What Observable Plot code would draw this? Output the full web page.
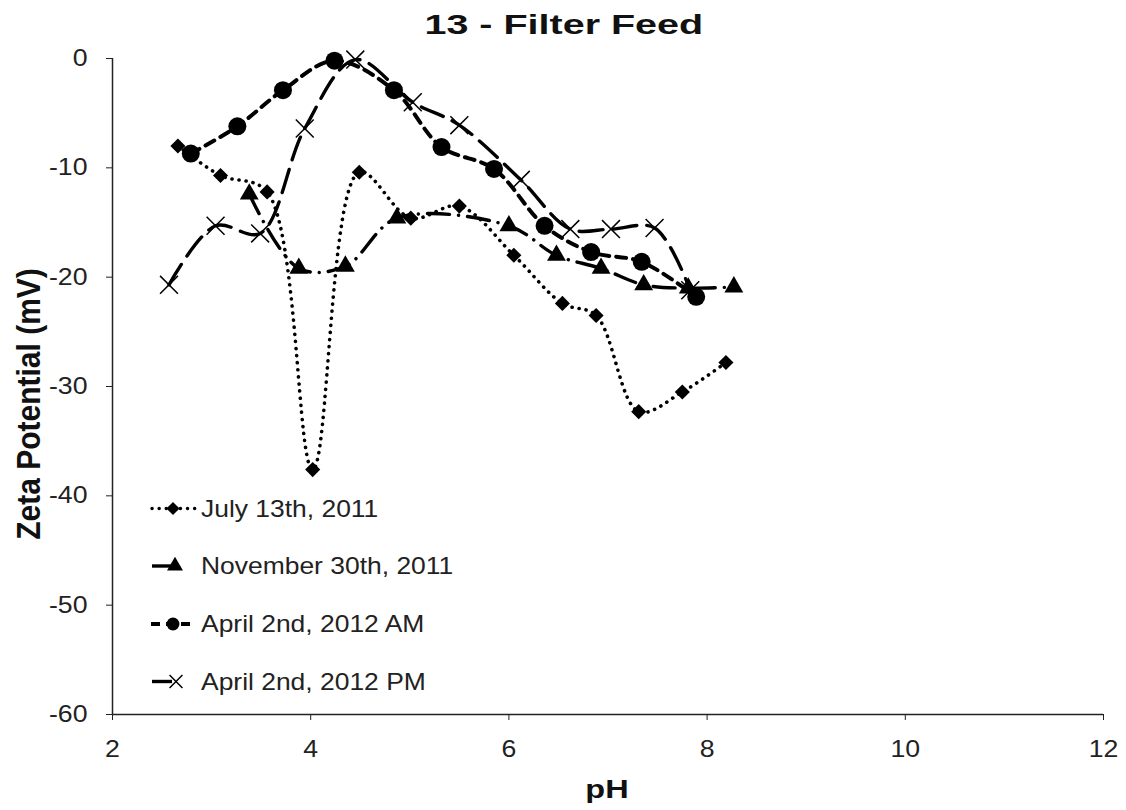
<!DOCTYPE html>
<html>
<head>
<meta charset="utf-8">
<script src="https://cdn.jsdelivr.net/npm/d3@7"></script>
<script src="https://cdn.jsdelivr.net/npm/@observablehq/plot@0.6"></script>
<style>
  html, body { margin: 0; padding: 0; background: #fff; }
  #wrap { position: relative; width: 1126px; height: 810px; font-family: "Liberation Sans", Arial, sans-serif; }
  #title { height: 40px; line-height: 40px; padding-top: 5px; box-sizing: border-box; text-align: center; }
  #title span { display: inline-block; font-weight: bold; font-size: 28px; color: #111; transform: scaleX(1.41); transform-origin: center; position: relative; left: 1px; }
</style>
</head>
<body>
<div id="wrap">
  <div id="title"><span>13 - Filter Feed</span></div>
  <div id="chart"></div>
</div>
<script>
// Series names
const seriesNames = ["July 13th, 2011", "November 30th, 2011", "April 2nd, 2012 AM", "April 2nd, 2012 PM"];

// July 13th, 2011
const phJul = [2.66, 3.09, 3.56, 4.02, 4.49, 5.01, 5.50, 6.05, 6.54, 6.88, 7.31, 7.75, 8.19];
const zJul  = [-8.0, -10.7, -12.2, -37.6, -10.4, -14.6, -13.5, -18.0, -22.4, -23.5, -32.3, -30.5, -27.8];

// November 30th, 2011
const phNov = [3.38, 3.88, 4.35, 4.87, 6.00, 6.48, 6.93, 7.36, 7.81, 8.27];
const zNov  = [-12.4, -19.2, -19.0, -14.6, -15.3, -18.0, -19.2, -20.7, -21.0, -20.9];

// April 2nd, 2012 AM
const phAM = [2.79, 3.26, 3.72, 4.24, 4.84, 5.32, 5.85, 6.36, 6.83, 7.34, 7.89];
const zAM  = [-8.7, -6.2, -2.9, -0.2, -2.9, -8.1, -10.1, -15.3, -17.7, -18.6, -21.8];

// April 2nd, 2012 PM
const phPM = [2.57, 3.04, 3.49, 3.94, 4.45, 5.03, 5.50, 6.12, 6.62, 7.03, 7.47, 7.83];
const zPM  = [-20.7, -15.3, -16.0, -6.4, -0.1, -4.0, -6.1, -11.1, -15.6, -15.6, -15.5, -21.2];

// Axis ticks
const xTicks = [2, 4, 6, 8, 10, 12];
const yTicks = [0, -10, -20, -30, -40, -50, -60];

const toRows = (ph, z) => ph.map((p, i) => ({ph: p, z: z[i]}));
const series = [
  {name: seriesNames[0], rows: toRows(phJul, zJul), dash: "0.1 7", width: 3.6, symbol: "diamond2", r: 6.8, fill: "black", stroke: "none", sw: 0},
  {name: seriesNames[1], rows: toRows(phNov, zNov), dash: "22 9 0.1 9", width: 3.4, symbol: "triangle", r: 7, fill: "black", stroke: "none", sw: 0},
  {name: seriesNames[2], rows: toRows(phAM, zAM), dash: "10 7", width: 4, symbol: "circle", r: 9, fill: "black", stroke: "none", sw: 0},
  {name: seriesNames[3], rows: toRows(phPM, zPM), dash: "24 10", width: 3.4, symbol: "times", r: 8.2, fill: "none", stroke: "black", sw: 1.5}
];

const marks = [
  Plot.ruleX([2], {stroke: "#222", strokeWidth: 1.5}),
  Plot.ruleY([-60], {stroke: "#222", strokeWidth: 1.5}),
  Plot.axisX({ticks: xTicks, tickSize: 6, tickPadding: 20, tickFormat: d => String(d), fontSize: 23, label: null, color: "#222"}),
  Plot.axisY({ticks: yTicks, tickSize: 6, tickPadding: 19, tickFormat: d => String(d), fontSize: 23, label: null, color: "#222"})
];
for (const s of series) {
  marks.push(Plot.line(s.rows, {x: "ph", y: "z", curve: "catmull-rom", stroke: "black", strokeWidth: s.width, strokeDasharray: s.dash, strokeLinecap: "round"}));
}
for (const s of series) {
  marks.push(Plot.dot(s.rows, {x: "ph", y: "z", symbol: () => s.symbol, r: s.r, fill: s.fill, stroke: s.stroke, strokeWidth: s.sw}));
}

const chart = Plot.plot({
  width: 1126,
  height: 770,
  marginTop: 18,
  marginBottom: 96,
  marginLeft: 112,
  marginRight: 23,
  style: {fontFamily: "'Liberation Sans', Arial, sans-serif", fontSize: "23px", background: "white", overflow: "visible"},
  x: {domain: [2, 12]},
  y: {domain: [-60, 0]},
  symbol: {type: "identity"},
  marks
});
document.getElementById("chart").appendChild(chart);

const svg = d3.select(chart);
// widen tick labels horizontally to match the reference's stretched glyphs
svg.selectAll('g[aria-label$="tick label"] text').each(function () {
  const t = this.getAttribute("transform") || "";
  this.setAttribute("transform", t + " scale(1.16,1)");
});

// Axis titles
svg.append("text").attr("transform", "translate(607,758) scale(1.3,1)").attr("text-anchor", "middle")
  .attr("font-size", 25).attr("font-weight", "bold").attr("fill", "#111").text("pH");
svg.append("text").attr("transform", "translate(40,364) rotate(-90) scale(1,1.12)").attr("text-anchor", "middle")
  .attr("font-size", 30).attr("font-weight", "bold").attr("fill", "#111").text("Zeta Potential (mV)");

// Legend (inside plot area, lower left)
const legendCenters = [468.5, 526, 584, 641.5];
const lgSym = {
  "diamond2": d3.symbol(d3.symbolDiamond2, 110)(),
  "triangle": d3.symbol(d3.symbolTriangle, 110)(),
  "circle": d3.symbol(d3.symbolCircle, 130)(),
  "times": d3.symbol(d3.symbolTimes, 110)()
};
const lg = svg.append("g").attr("text-anchor", "start");
series.forEach((s, i) => {
  const cy = legendCenters[i];
  const g = lg.append("g").attr("transform", `translate(0,${cy})`);
  if (i === 0) {
    g.append("line").attr("x1", 152).attr("x2", 196).attr("stroke", "black").attr("stroke-width", 3.4)
      .attr("stroke-dasharray", "0.1 7").attr("stroke-linecap", "round");
    g.append("path").attr("d", lgSym.diamond2).attr("transform", "translate(173,0)").attr("fill", "black");
  } else if (i === 1) {
    g.append("line").attr("x1", 152).attr("x2", 172).attr("stroke", "black").attr("stroke-width", 3.4);
    g.append("path").attr("d", lgSym.triangle).attr("transform", "translate(175,0)").attr("fill", "black");
  } else if (i === 2) {
    g.append("line").attr("x1", 151).attr("x2", 196).attr("stroke", "black").attr("stroke-width", 4)
      .attr("stroke-dasharray", "9 6");
    g.append("path").attr("d", lgSym.circle).attr("transform", "translate(173,0)").attr("fill", "black");
  } else {
    g.append("line").attr("x1", 152).attr("x2", 172).attr("stroke", "black").attr("stroke-width", 3.4);
    g.append("path").attr("d", lgSym.times).attr("transform", "translate(176,0)").attr("fill", "none")
      .attr("stroke", "black").attr("stroke-width", 1.5);
  }
  g.append("text").attr("transform", "translate(201,8) scale(1.15,1)").attr("text-anchor", "start")
    .attr("font-size", 23).attr("fill", "#222").text(s.name);
});
</script>
</body>
</html>
